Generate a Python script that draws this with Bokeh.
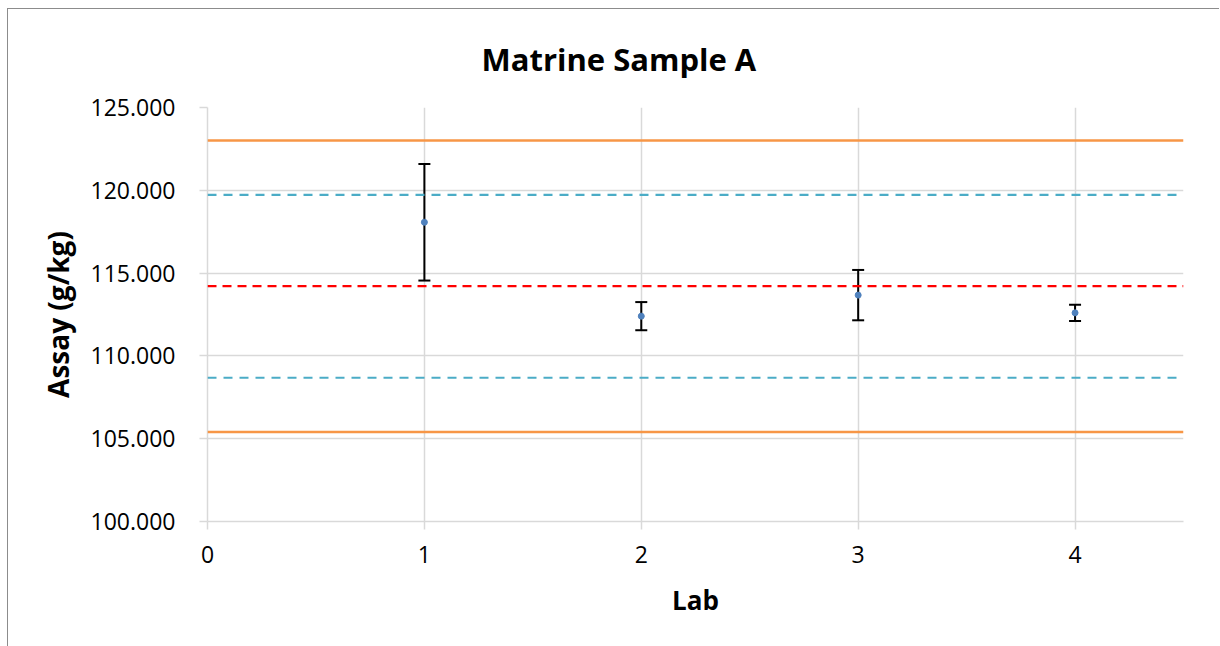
from bokeh.plotting import figure
from bokeh.models import (Span, Whisker, ColumnDataSource, FixedTicker,
                          NumeralTickFormatter, TeeHead)
from bokeh.embed import file_html
from bokeh.resources import INLINE

# ---- data ----
labs = [1, 2, 3, 4]
assay = [118.07, 112.40, 113.67, 112.60]
assay_err = [3.52, 0.85, 1.52, 0.49]

upper_action = 123.00
upper_warning = 119.72
assigned_value = 114.21
lower_warning = 108.68
lower_action = 105.40

y_ticks = [100, 105, 110, 115, 120, 125]
x_ticks = [0, 1, 2, 3, 4]

title_text = "Matrine Sample A"
x_label = "Lab"
y_label = "Assay (g/kg)"

# ---- figure ----
FONT = "Open Sans"
p = figure(width=1212, height=638, x_range=(0, 4.5), y_range=(100, 125),
           output_backend="svg", toolbar_location=None,
           min_border_left=199, min_border_right=37,
           min_border_top=98, min_border_bottom=126)
p.margin = (8, 0, 0, 7)
p.outline_line_color = None
p.background_fill_color = "white"
p.border_fill_color = "white"
p.styles = {"border-left": "1px solid #8c8c8c", "border-top": "1px solid #8c8c8c"}

# title
p.title.text = title_text
p.title.align = "left"
p.title.offset = 274
p.title.vertical_align = "top"
p.title.text_font = FONT
p.title.text_font_size = "31px"
p.title.text_font_style = "bold"
p.title.text_color = "black"
p.title.standoff = 52

# grids
p.xgrid.ticker = FixedTicker(ticks=x_ticks)
p.ygrid.ticker = FixedTicker(ticks=y_ticks)
for g in (p.xgrid, p.ygrid):
    g.grid_line_color = "#D9D9D9"
    g.grid_line_width = 1.5

# axes
p.xaxis.ticker = FixedTicker(ticks=x_ticks)
p.yaxis.ticker = FixedTicker(ticks=y_ticks)
p.yaxis.formatter = NumeralTickFormatter(format="0.000")
for ax in (p.xaxis, p.yaxis):
    ax.axis_line_color = "#D9D9D9"
    ax.axis_line_width = 1.5
    ax.major_tick_line_color = "#D9D9D9"
    ax.major_tick_line_width = 1.5
    ax.major_tick_out = 8
    ax.major_tick_in = 0
    ax.minor_tick_line_color = None
    ax.major_label_text_font = FONT
    ax.major_label_text_font_size = "23px"
    ax.major_label_text_color = "black"
    ax.axis_label_text_font = FONT
    ax.axis_label_text_font_style = "bold"
    ax.axis_label_text_color = "black"
p.yaxis.major_label_standoff = 24
p.xaxis.major_label_standoff = 16
p.yaxis.axis_label = y_label
p.yaxis.axis_label_text_font_size = "28px"
p.yaxis.axis_label_standoff = 11
p.xaxis.axis_label = x_label
p.xaxis.axis_label_text_font_size = "26px"
p.xaxis.axis_label_standoff = 16

# reference lines
ORANGE = "#F79646"
TEAL = "#4BACC6"
for loc in (upper_action, lower_action):
    p.add_layout(Span(location=loc, dimension="width", line_color=ORANGE, line_width=2.5))
for loc in (upper_warning, lower_warning):
    p.add_layout(Span(location=loc, dimension="width", line_color=TEAL, line_width=2.2,
                      line_dash="9 7"))
p.add_layout(Span(location=assigned_value, dimension="width", line_color="#FF0000",
                  line_width=2.2, line_dash="9 6"))

# data with error bars
lower = [a - e for a, e in zip(assay, assay_err)]
upper = [a + e for a, e in zip(assay, assay_err)]
src = ColumnDataSource(dict(lab=labs, assay=assay, lower=lower, upper=upper))
w = Whisker(source=src, base="lab", lower="lower", upper="upper",
            line_color="black", line_width=2,
            lower_head=TeeHead(size=12, line_color="black", line_width=2),
            upper_head=TeeHead(size=12, line_color="black", line_width=2))
p.add_layout(w)
p.scatter("lab", "assay", source=src, size=6, marker="circle",
          fill_color="#4F81BD", line_color="#4F81BD")

open("out.html", "w").write(file_html(p, INLINE))
